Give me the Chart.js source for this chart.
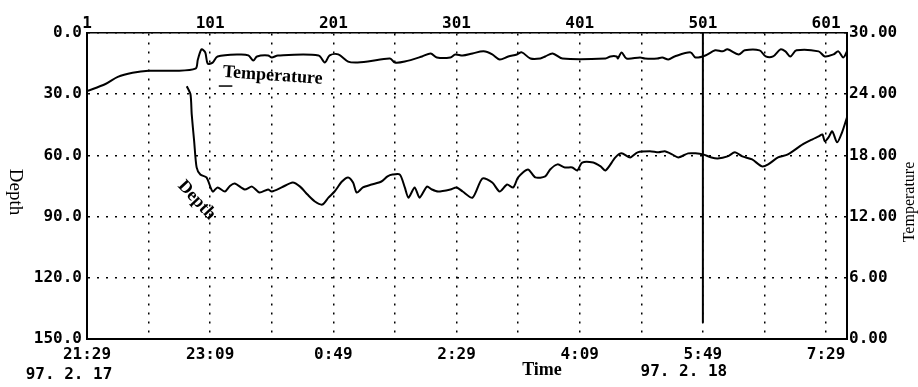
<!DOCTYPE html>
<html>
<head>
<meta charset="utf-8">
<script src="https://cdn.jsdelivr.net/npm/chart.js@4.4.0/dist/chart.umd.min.js"></script>
<style>
  html, body { margin: 0; padding: 0; background: #fff; }
  #wrap { width: 918px; height: 387px; }
</style>
</head>
<body>
<div id="wrap"><canvas id="chart"></canvas></div>
<script>
// minute index (1 = 21:29) and readings
const tempMinutes = [1, 16, 26, 38, 51, 72, 89, 91, 94, 97, 99, 103, 107, 125, 132, 136, 139, 148, 151, 156,
  189, 194, 198, 205, 213, 219, 229, 247, 251, 259, 273, 280, 285, 296, 300, 306, 314, 323, 330, 336,
  343, 350, 354, 361, 369, 373, 379, 387, 422, 426, 431, 432, 435, 439, 450, 454, 464, 468, 473, 478,
  491, 495, 503, 511, 517, 521, 530, 535, 547, 552, 558, 564, 568, 572, 577, 595, 600, 607, 611, 615, 618];
const tempValues = [24.3, 25.0, 25.7, 26.1, 26.3, 26.3, 26.5, 27.4, 28.4, 28.1, 27.0, 27.1, 27.7, 27.9, 27.8, 27.3, 27.7, 27.8, 27.6, 27.8,
  27.8, 27.1, 27.8, 27.9, 27.2, 27.1, 27.2, 27.5, 27.1, 27.2, 27.7, 28.0, 27.6, 27.6, 27.9, 27.8, 28.0, 28.2, 27.9, 27.4,
  27.7, 27.9, 28.1, 27.5, 27.5, 27.7, 28.0, 27.5, 27.5, 27.7, 27.7, 27.5, 28.1, 27.5, 27.6, 27.5, 27.5, 27.6, 27.4, 27.7,
  28.1, 27.6, 27.8, 28.3, 28.2, 28.4, 27.9, 28.3, 28.3, 27.7, 27.7, 28.4, 28.2, 27.7, 28.3, 28.2, 27.7, 27.9, 28.2, 27.6, 28.2];

const depthMinutes = [82, 85, 86, 88, 90, 93, 98, 103, 107, 113, 117, 121, 129, 135, 141, 148, 151, 159, 168, 174,
  180, 186, 192, 197, 202, 208, 213, 217, 220, 225, 232, 240, 245, 249, 255, 259, 262, 267, 271, 277,
  281, 286, 296, 301, 306, 314, 322, 330, 336, 342, 347, 351, 359, 365, 373, 377, 383, 389, 395, 399,
  403, 412, 418, 422, 430, 435, 442, 448, 458, 465, 470, 476, 481, 489, 495, 501, 508, 513, 521, 527,
  533, 541, 549, 554, 562, 570, 582, 590, 595, 598, 600, 603, 606, 610, 614, 618];
const depthValues = [26.1, 30.0, 39.8, 53.1, 65.9, 69.4, 70.8, 77.7, 75.7, 77.7, 75.0, 73.8, 76.7, 75.3, 78.2, 76.7, 77.7, 75.7, 73.3, 75.3,
  79.2, 82.6, 84.1, 80.7, 77.7, 72.8, 70.8, 73.3, 78.2, 75.7, 74.3, 72.8, 70.3, 69.4, 69.4, 75.7, 80.7, 75.7, 80.7, 75.3,
  76.7, 77.7, 76.7, 75.7, 77.7, 80.7, 71.3, 73.3, 77.7, 74.3, 75.7, 70.8, 66.9, 70.8, 70.3, 66.9, 64.4, 65.9, 65.9, 67.4,
  63.5, 63.5, 65.4, 67.4, 61.0, 59.0, 61.0, 58.5, 58.0, 58.5, 58.0, 59.5, 61.0, 59.0, 59.0, 59.5, 61.0, 61.5, 60.5, 58.5,
  60.5, 62.0, 65.4, 64.4, 61.0, 59.5, 54.6, 52.1, 50.7, 49.7, 53.1, 51.2, 48.2, 53.6, 48.7, 41.3];

const minuteLabels = [1, 101, 201, 301, 401, 501, 601];
const timeLabels = ["21:29", "23:09", "0:49", "2:29", "4:09", "5:49", "7:29"];
const dateLabels = ["97. 2. 17", "97. 2. 18"];
const markerMinute = 501;

const gridMinutes = [];
for (let m = 1; m <= 601; m += 50) gridMinutes.push(m);

const monoFont = { family: "'DejaVu Sans Mono', monospace", size: 16, weight: "bold" };
const dotted = [2, 7];

const setTicks = (s) => { s.ticks = gridMinutes.map((v) => ({ value: v })); };

const annotate = {
  id: "annotate",
  afterDraw(chart) {
    const { ctx, chartArea, scales } = chart;
    const mid = (chartArea.top + chartArea.bottom) / 2;
    ctx.save();
    ctx.fillStyle = "#000";
    ctx.textAlign = "center";
    ctx.textBaseline = "middle";

    // axis titles
    ctx.font = "19px 'Liberation Serif'";
    ctx.save();
    ctx.translate(15, mid + 6);
    ctx.rotate(Math.PI / 2);
    ctx.fillText("Depth", 0, 0);
    ctx.restore();

    ctx.font = "16px 'Liberation Serif'";
    ctx.save();
    ctx.translate(910, mid + 16);
    ctx.rotate(-Math.PI / 2);
    ctx.fillText("Temperature", 0, 0);
    ctx.restore();

    ctx.font = "bold 18px 'Liberation Serif'";
    ctx.fillText("Time", 542, 370);

    // dates under the time axis
    ctx.font = "bold 16px 'DejaVu Sans Mono'";
    ctx.fillText(dateLabels[0], scales.xb.getPixelForValue(1) - 18, 375);
    ctx.fillText(dateLabels[1], scales.xb.getPixelForValue(501) - 19, 372);

    // series labels inside the plot
    ctx.font = "bold 18px 'Liberation Serif'";
    ctx.textAlign = "left";
    ctx.textBaseline = "alphabetic";
    ctx.save();
    ctx.translate(scales.x.getPixelForValue(111), scales.temp.getPixelForValue(25.7));
    ctx.rotate(0.07);
    ctx.fillText("Temperature", 0, 0);
    ctx.restore();

    ctx.lineWidth = 1.5;
    ctx.beginPath();
    const uy = scales.temp.getPixelForValue(24.8);
    ctx.moveTo(scales.x.getPixelForValue(108), uy);
    ctx.lineTo(scales.x.getPixelForValue(119), uy);
    ctx.stroke();

    ctx.textAlign = "center";
    ctx.textBaseline = "middle";
    ctx.save();
    ctx.translate(scales.x.getPixelForValue(90), scales.depth.getPixelForValue(82));
    ctx.rotate(0.82);
    ctx.fillText("Depth", 0, 0);
    ctx.restore();

    ctx.restore();
  },
};

new Chart(document.getElementById("chart"), {
  type: "line",
  data: {
    datasets: [
      {
        label: "Temperature",
        data: tempMinutes.map((m, i) => ({ x: m, y: tempValues[i] })),
        yAxisID: "temp",
        xAxisID: "x",
        borderColor: "#000",
        borderWidth: 2,
        pointRadius: 0,
        tension: 0.3,
      },
      {
        label: "Depth",
        data: depthMinutes.map((m, i) => ({ x: m, y: depthValues[i] })),
        yAxisID: "depth",
        xAxisID: "x",
        borderColor: "#000",
        borderWidth: 2,
        pointRadius: 0,
        tension: 0.25,
      },
      {
        label: "marker",
        data: [{ x: markerMinute, y: 0 }, { x: markerMinute, y: 142 }],
        yAxisID: "depth",
        xAxisID: "x",
        borderColor: "#000",
        borderWidth: 2,
        pointRadius: 0,
      },
    ],
  },
  options: {
    responsive: true,
    maintainAspectRatio: false,
    animation: false,
    layout: { padding: 0 },
    plugins: { legend: { display: false }, tooltip: { enabled: false } },
    scales: {
      x: {
        type: "linear",
        position: "top",
        min: 1,
        max: 618,
        afterBuildTicks: setTicks,
        afterFit: (s) => { s.height = 33; },
        ticks: {
          autoSkip: false,
          maxRotation: 0,
          padding: 0,
          color: "#000",
          font: monoFont,
          callback: (v) => (minuteLabels.includes(v) ? String(v) : ""),
        },
        grid: { color: "#000", lineWidth: 1.5, drawTicks: false },
        border: { color: "#000", width: 1.5, dash: dotted },
      },
      xb: {
        type: "linear",
        position: "bottom",
        min: 1,
        max: 618,
        afterBuildTicks: setTicks,
        afterFit: (s) => { s.height = 48; },
        ticks: {
          autoSkip: false,
          maxRotation: 0,
          padding: 6,
          color: "#000",
          font: monoFont,
          callback: (v) => {
            const i = minuteLabels.indexOf(v);
            return i >= 0 ? timeLabels[i] : "";
          },
        },
        grid: { drawOnChartArea: false, drawTicks: false },
        border: { color: "#000", width: 2 },
      },
      depth: {
        position: "left",
        reverse: true,
        min: 0,
        max: 150,
        afterFit: (s) => { s.width = 87; },
        ticks: {
          stepSize: 30,
          padding: 5,
          color: "#000",
          font: monoFont,
          callback: (v) => v.toFixed(1),
        },
        grid: { color: "#000", lineWidth: 1.5, drawTicks: false },
        border: { color: "#000", width: 2, dash: dotted },
      },
      temp: {
        position: "right",
        min: 0,
        max: 30,
        afterFit: (s) => { s.width = 71; },
        ticks: {
          stepSize: 6,
          padding: 2,
          color: "#000",
          font: monoFont,
          callback: (v) => v.toFixed(2),
        },
        grid: { drawOnChartArea: false, drawTicks: false },
        border: { color: "#000", width: 2 },
      },
    },
  },
  plugins: [annotate],
});
</script>
</body>
</html>
